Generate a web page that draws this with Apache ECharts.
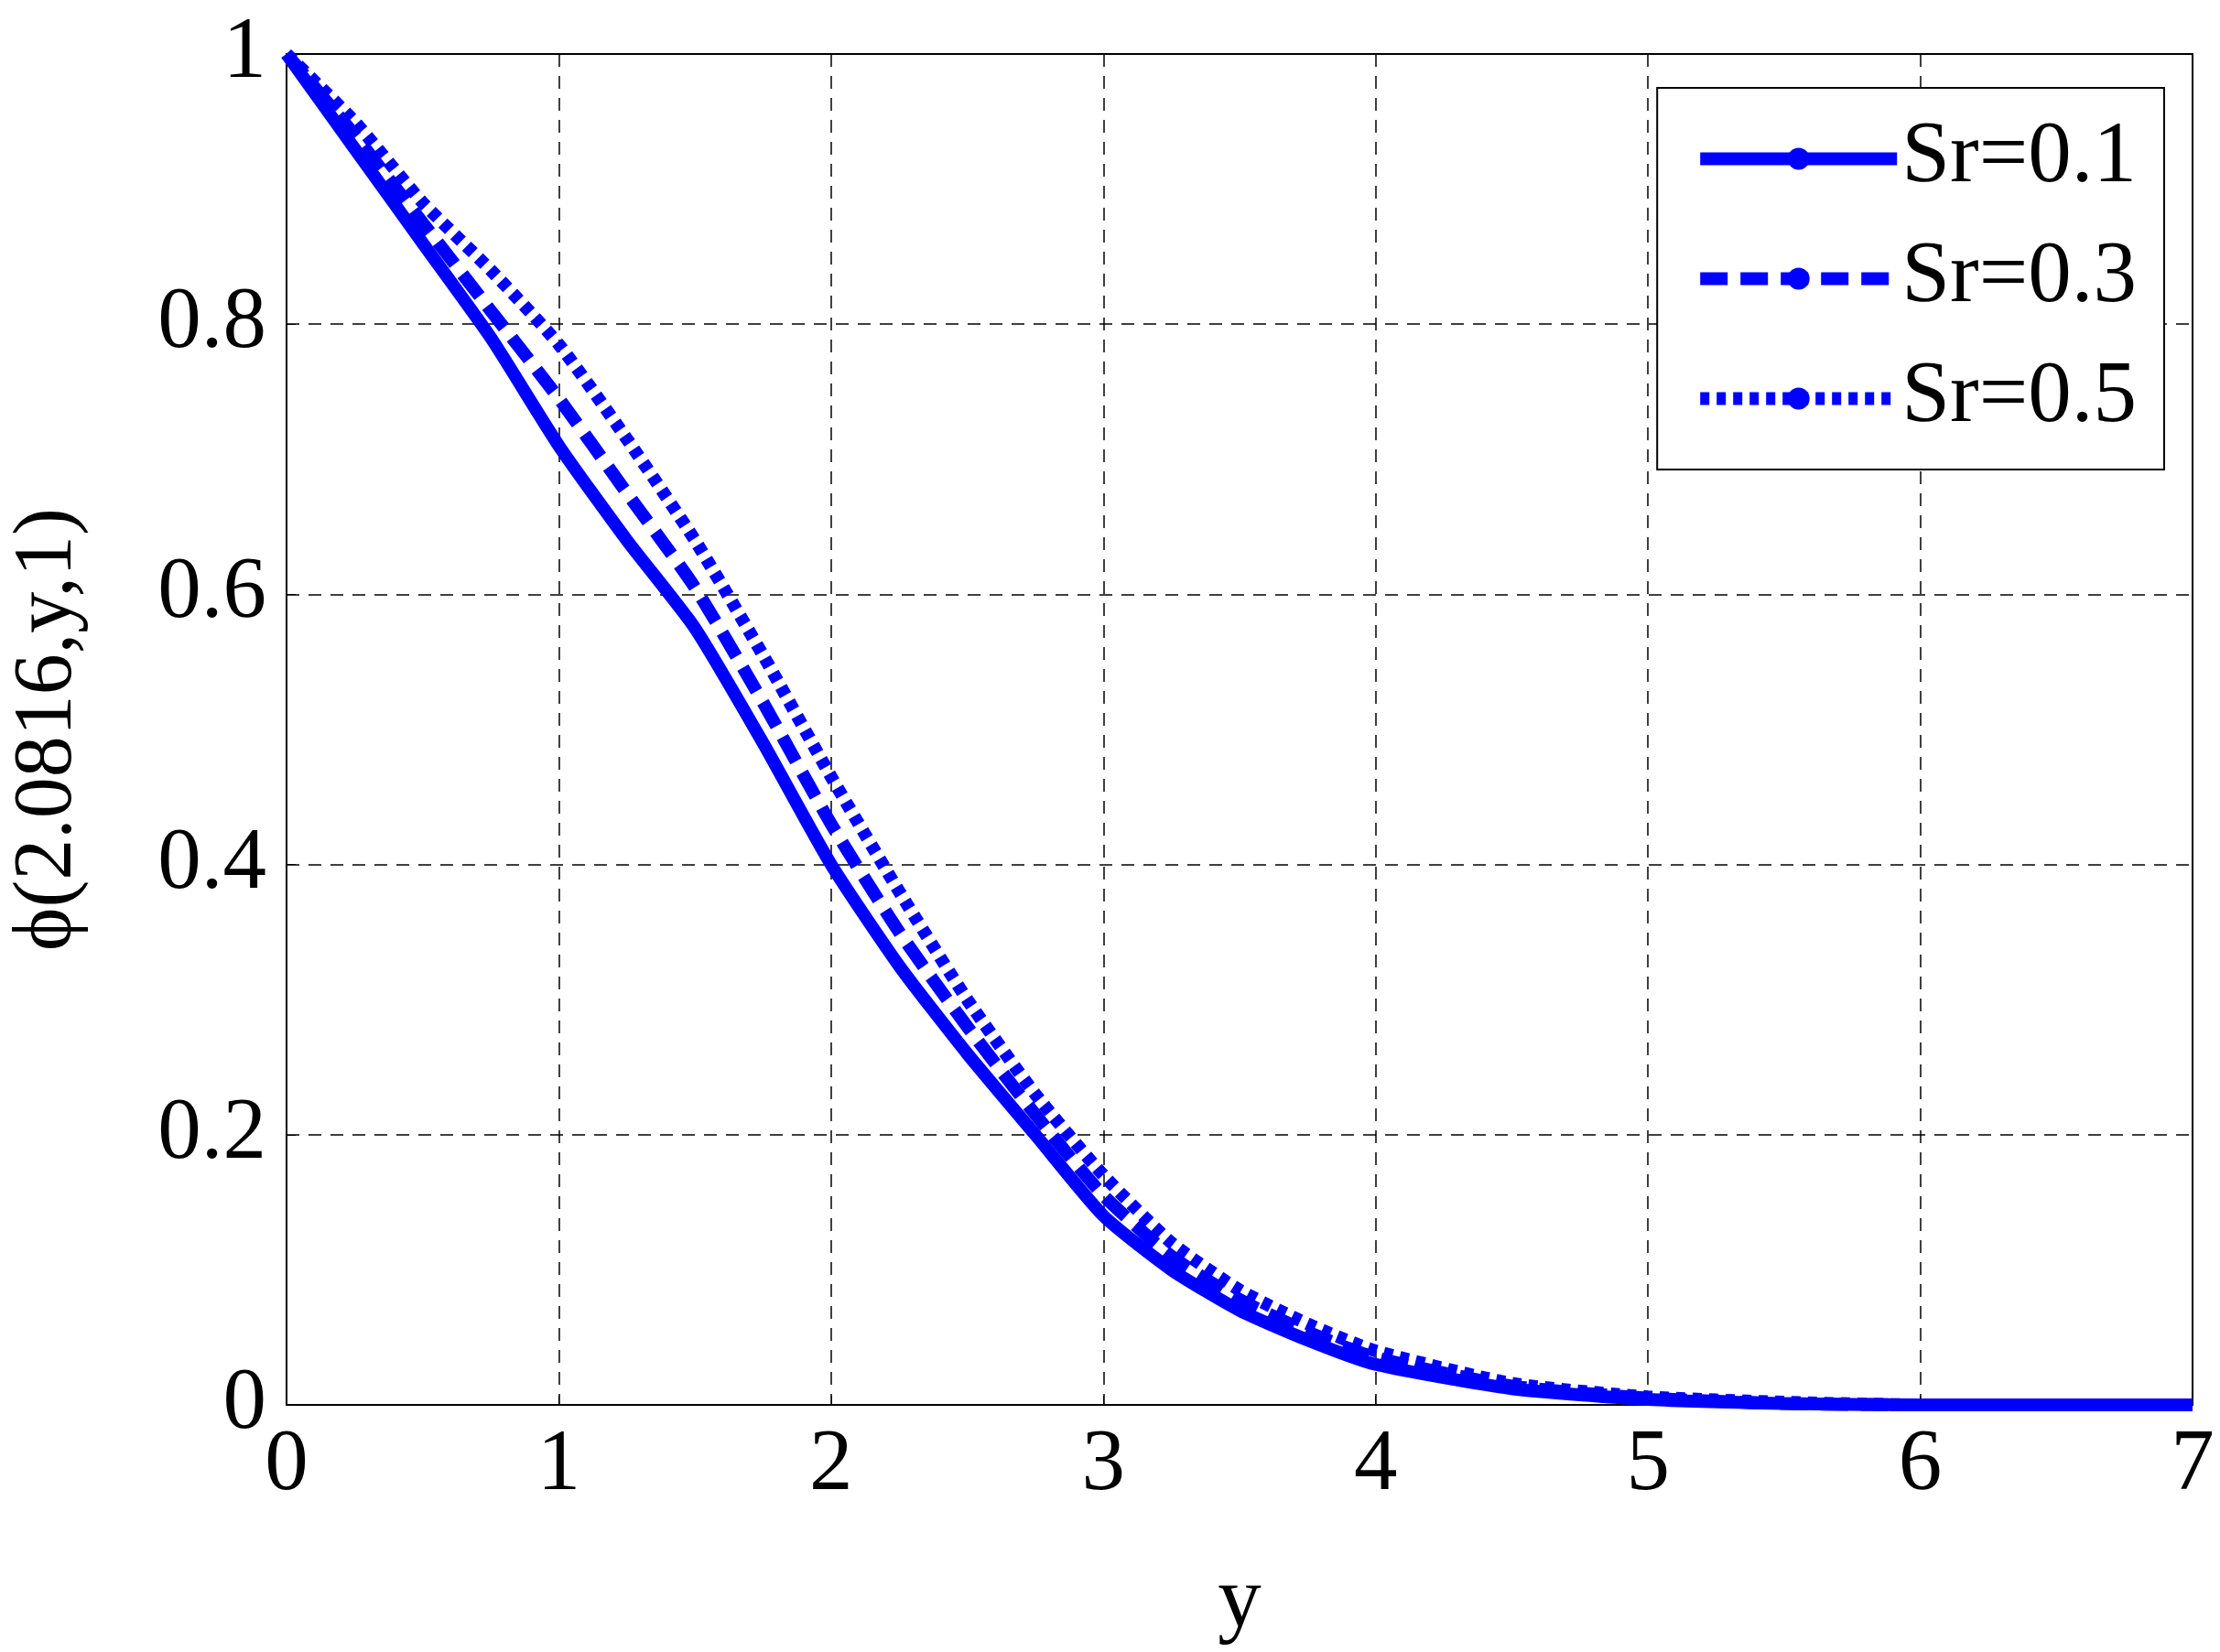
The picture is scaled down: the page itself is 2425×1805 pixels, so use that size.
<!DOCTYPE html>
<html style="height: 100%">
<head>
<meta charset="utf-8">
<script src="https://cdn.jsdelivr.net/npm/echarts@6/dist/echarts.min.js"></script>
</head>
<body style="height: 100%; margin: 0; background: #fff">
<div id="container" style="width: 2425px; height: 1805px"></div>
<script type="text/javascript">
var xs = [0, 0.25, 0.5, 0.75, 1, 1.25, 1.5, 1.75, 2, 2.25, 2.5, 2.75, 3, 3.25, 3.5, 3.75, 4, 4.5, 5, 5.5, 6, 7];
var sr01 = [1, 0.93, 0.86, 0.79, 0.71, 0.64, 0.575, 0.49, 0.40, 0.325, 0.26, 0.2, 0.14, 0.1, 0.07, 0.048, 0.03, 0.012, 0.004, 0.001, 0, 0];
var sr03 = [1, 0.94, 0.875, 0.81, 0.745, 0.675, 0.605, 0.52, 0.43, 0.35, 0.28, 0.215, 0.155, 0.11, 0.078, 0.054, 0.035, 0.014, 0.005, 0.001, 0, 0];
var sr05 = [1, 0.95, 0.89, 0.84, 0.785, 0.715, 0.64, 0.555, 0.465, 0.38, 0.30, 0.23, 0.17, 0.12, 0.085, 0.06, 0.04, 0.016, 0.006, 0.002, 0, 0];
var names = ['Sr=0.1', 'Sr=0.3', 'Sr=0.5'];
var styles = ['solid', [30, 14], [10, 8]];

function pairs(v) {
	var r = [];
	for (var i = 0; i < xs.length; i++) r.push([xs[i], v[i]]);
	return r;
}

var font = 'Liberation Serif';
var myChart = echarts.init(document.getElementById('container'));
var series = [sr01, sr03, sr05].map(function (v, i) {
	return {
		name: names[i], type: 'line', data: pairs(v), symbol: 'none', smooth: 0.2,
		lineStyle: { color: '#0000ff', width: 14, type: styles[i] },
		itemStyle: { color: '#0000ff' }
	};
});
myChart.setOption({
	animation: false,
	grid: { left: 292, right: 30, top: 59, bottom: 261, show: true, borderColor: '#000', borderWidth: 2 },
	legend: {
		right: 61, top: 96, orient: 'vertical', itemWidth: 215, itemHeight: 30, itemGap: 36,
		padding: [30, 30, 30, 40], borderColor: '#000', borderWidth: 2, backgroundColor: '#fff',
		lineStyle: { width: 14 },
		textStyle: { fontFamily: font, fontSize: 95, color: '#000' }
	},
	xAxis: {
		type: 'value', min: 0, max: 7, interval: 1, name: 'y', nameLocation: 'middle', nameGap: 170,
		nameTextStyle: { fontFamily: font, fontSize: 95, color: '#000' },
		axisLine: { lineStyle: { color: '#000', width: 2 } },
		axisTick: { inside: true, length: 10, lineStyle: { color: '#000' } },
		axisLabel: { fontFamily: font, fontSize: 95, color: '#000', margin: 20 },
		splitLine: { lineStyle: { color: '#000', width: 1.5, type: [14, 10] } }
	},
	yAxis: {
		type: 'value', min: 0, max: 1, interval: 0.2, name: 'ϕ(2.0816,y,1)', nameLocation: 'middle', nameGap: 215,
		nameTextStyle: { fontFamily: font, fontSize: 90, color: '#000' },
		axisLine: { lineStyle: { color: '#000', width: 2 } },
		axisTick: { inside: true, length: 10, lineStyle: { color: '#000' } },
		axisLabel: { fontFamily: font, fontSize: 95, color: '#000', margin: 22 },
		splitLine: { lineStyle: { color: '#000', width: 1.5, type: [14, 10] } }
	},
	series: series
});
</script>
</body>
</html>
